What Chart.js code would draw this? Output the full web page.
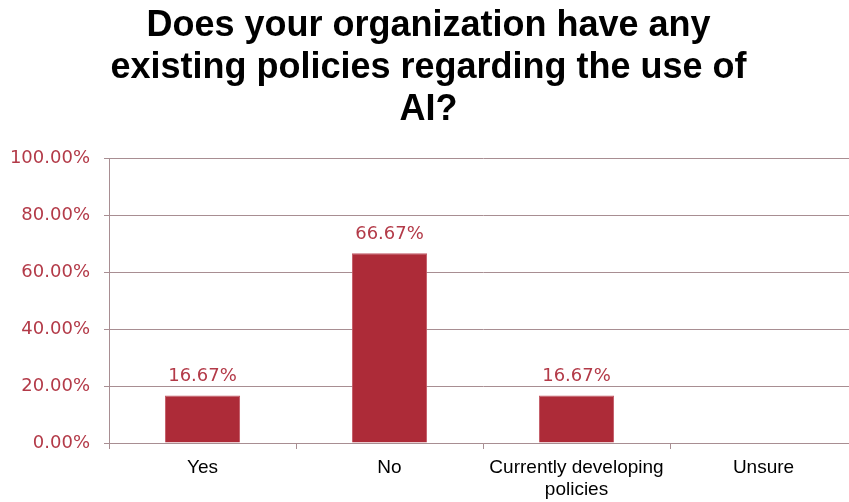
<!DOCTYPE html>
<html><head><meta charset="utf-8">
<script src="https://cdn.jsdelivr.net/npm/chart.js@4/dist/chart.umd.min.js"></script>
<style>html,body{margin:0;padding:0;background:#fff;overflow:hidden;width:849px;height:502px}#wrap{width:857px;height:502px}</style>
</head><body><div id="wrap"><canvas id="c" width="857" height="502"></canvas></div>
<script>
const titleLines = ["Does your organization have any", "existing policies regarding the use of", "AI?"];
const categories = ["Yes", "No", ["Currently developing", "policies"], "Unsure"];
const values = [16.67, 66.67, 16.67, 0];
const yTicks = [0, 20, 40, 60, 80, 100];

const RED = '#ad2b38';
const LABEL_RED = '#b33a48';
const GRID = '#a88e92';

const dataLabels = {
  id: 'dataLabels',
  afterDatasetsDraw(chart) {
    const ctx = chart.ctx;
    const meta = chart.getDatasetMeta(0);
    ctx.save();
    ctx.font = '18px "DejaVu Sans"';
    ctx.fillStyle = LABEL_RED;
    ctx.textAlign = 'center';
    ctx.textBaseline = 'bottom';
    meta.data.forEach((bar, i) => {
      const v = values[i];
      if (!v) return;
      ctx.fillText(v.toFixed(2) + '%', bar.x, bar.y - 10);
    });
    ctx.restore();
  }
};

new Chart(document.getElementById('c'), {
  type: 'bar',
  data: {
    labels: categories,
    datasets: [{
      data: values,
      backgroundColor: RED,
      borderColor: '#c25864',
      borderWidth: 1,
      barPercentage: 0.402,
      categoryPercentage: 1
    }]
  },
  options: {
    responsive: false,
    animation: false,
    layout: { padding: { left: 0, right: 0, top: 0, bottom: 0 } },
    plugins: {
      legend: { display: false },
      tooltip: { enabled: false },
      title: {
        display: true,
        text: titleLines,
        color: '#000',
        font: { family: '"Liberation Sans", Arial, sans-serif', size: 36, weight: 'bold', lineHeight: 1.17 },
        padding: { top: 5, bottom: 27 }
      }
    },
    scales: {
      x: {
        grid: { display: true, drawOnChartArea: false, drawTicks: true, tickLength: 6, color: GRID, offset: true },
        border: { display: true, color: GRID, width: 1 },
        ticks: { color: '#000', font: { family: '"Liberation Sans", Arial, sans-serif', size: 19, lineHeight: 1.2 }, padding: 7, maxRotation: 0, autoSkip: false },
        afterFit(scale) { scale.height = 59; }
      },
      y: {
        min: 0, max: 100,
        afterBuildTicks(scale) { scale.ticks = yTicks.map(v => ({ value: v })); },
        grid: { color: GRID, drawTicks: true, tickLength: 5 },
        border: { display: true, color: GRID, width: 1 },
        ticks: {
          color: LABEL_RED,
          font: { family: '"DejaVu Sans"', size: 18 },
          padding: 14,
          callback: v => v.toFixed(2) + '%'
        },
        afterFit(scale) { scale.width = 109; }
      }
    }
  },
  plugins: [dataLabels]
});
</script>
</body></html>
